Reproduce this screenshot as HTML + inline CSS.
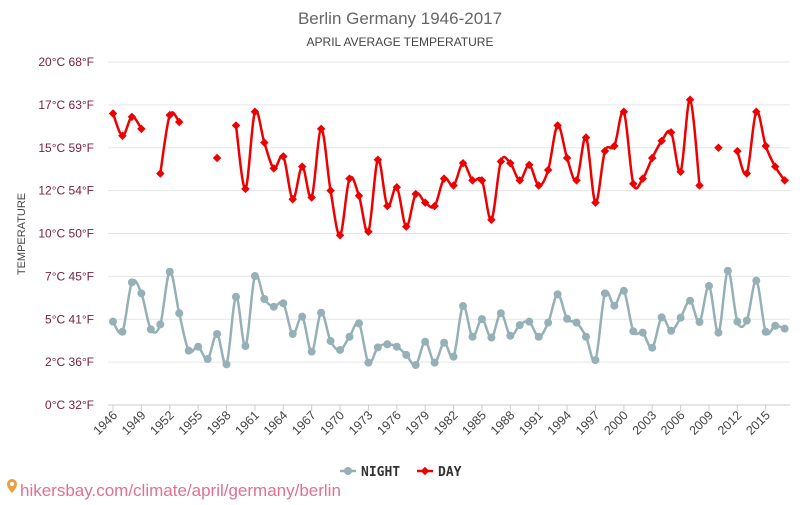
<!DOCTYPE html>
<html><head><meta charset="utf-8"><style>
body{margin:0;background:#fff;width:800px;height:500px;overflow:hidden;font-family:"Liberation Sans",sans-serif}
</style></head><body>
<svg id="chart" width="800" height="500" xmlns="http://www.w3.org/2000/svg" font-family="Liberation Sans, sans-serif">
<text x="400" y="24" text-anchor="middle" font-size="17" fill="#666">Berlin Germany 1946-2017</text>
<text x="400" y="46" text-anchor="middle" font-size="12" fill="#444">APRIL AVERAGE TEMPERATURE</text>
<text transform="translate(25,234) rotate(-90)" text-anchor="middle" font-size="11" fill="#444">TEMPERATURE</text>
<g id="grid"></g><g id="xaxis"></g><g id="series"></g>
<g>
<g>
<line x1="340" y1="471" x2="356" y2="471" stroke="#95b0b7" stroke-width="2.5"/><circle cx="348" cy="471" r="4" fill="#95b0b7"/>
<text x="361" y="476" font-size="13" font-weight="bold" font-family="DejaVu Sans Mono, monospace" fill="#333">NIGHT</text></g>
<g>
<line x1="417" y1="471" x2="433" y2="471" stroke="#e00" stroke-width="2.5"/><rect x="422" y="468" width="6" height="6" transform="rotate(45 425 471)" fill="#e00"/>
<text x="438" y="476" font-size="13" font-weight="bold" font-family="DejaVu Sans Mono, monospace" fill="#333">DAY</text></g>
</g>
<g>
<path d="M7 484 a5 5 0 0 1 10 0 c0 4 -5 9 -5 9 c0 0 -5 -5 -5 -9z" fill="#e8a040"/><circle cx="12" cy="484" r="2" fill="#fff"/>
<text x="20" y="496" font-size="17" fill="#e07090">hikersbay.com/climate/april/germany/berlin</text></g>
</svg>
<script>
const years=[];for(let y=1946;y<=2017;y++)years.push(y);
const dayTemps=[17.0,15.7,16.8,16.1,null,13.5,16.9,16.5,null,null,null,14.4,null,16.3,12.6,17.1,15.3,13.8,14.5,12.0,13.9,12.1,16.1,12.5,9.9,13.2,12.2,10.1,14.3,11.6,12.7,10.4,12.3,11.8,11.6,13.2,12.8,14.1,13.1,13.1,10.8,14.2,14.1,13.1,14.0,12.8,13.7,16.3,14.4,13.1,15.6,11.8,14.8,15.1,17.1,12.9,13.2,14.4,15.4,15.9,13.6,17.8,12.8,null,15.0,null,14.8,13.5,17.1,15.1,13.9,13.1];
const nightTemps=[4.86,4.27,7.15,6.51,4.41,4.70,7.77,5.35,3.17,3.40,2.68,4.14,2.37,6.31,3.44,7.52,6.18,5.73,5.93,4.14,5.15,3.11,5.38,3.73,3.21,3.98,4.76,2.47,3.36,3.54,3.40,2.92,2.33,3.69,2.47,3.63,2.82,5.77,3.98,5.01,3.93,5.35,4.04,4.66,4.86,3.98,4.80,6.45,5.03,4.80,3.98,2.62,6.51,5.79,6.66,4.30,4.22,3.34,5.11,4.33,5.09,6.08,4.84,6.94,4.22,7.83,4.86,4.92,7.25,4.27,4.62,4.45];
const yTicks=[0,2.5,5,7.5,10,12.5,15,17.5,20];
const yTickLabels=["0°C 32°F","2°C 36°F","5°C 41°F","7°C 45°F","10°C 50°F","12°C 54°F","15°C 59°F","17°C 63°F","20°C 68°F"];
const NS="http://www.w3.org/2000/svg";
const X0=113,XSTEP=9.46,Y0=405,YSCALE=17.15;
const xs=y=>X0+(y-1946)*XSTEP, ys=v=>Y0-v*YSCALE;
function mk(t,a,p){const e=document.createElementNS(NS,t);for(const k in a)e.setAttribute(k,a[k]);p.appendChild(e);return e;}
const grid=document.getElementById('grid'),xa=document.getElementById('xaxis'),ser=document.getElementById('series');
yTicks.forEach((v,i)=>{
 const l=mk('line',{x1:108,x2:790,y1:ys(v),y2:ys(v),stroke:i==0?'#ccc':'#e6e6e6','stroke-width':1},grid);
 
 
 const t=mk('text',{x:94,y:ys(v)+4,'text-anchor':'end','font-size':12,fill:'#7a2040'},grid);
 t.textContent=yTickLabels[i];
 
 
});
years.forEach(y=>{if((y-1946)%3)return;
 const x=xs(y);
 const tk=mk('line',{x1:x,x2:x,y1:405,y2:411,stroke:'#ccc'},xa);
 
 
 const t=mk('text',{'text-anchor':'end','font-size':12.5,fill:'#444',transform:`translate(${x+5},${416}) rotate(-45)`},xa);
 t.textContent=y;
 
 
});
function path(vals){let d='',seg=[];const segs=[];
 vals.forEach((v,i)=>{if(v==null){if(seg.length)segs.push(seg);seg=[];}else seg.push([xs(years[i]),ys(v)]);});
 if(seg.length)segs.push(seg);
 segs.forEach(s=>{if(s.length<2)return;d+=`M${s[0][0]},${s[0][1]}`;
  for(let i=0;i<s.length-1;i++){const p0=s[i-1]||s[i],p1=s[i],p2=s[i+1],p3=s[i+2]||p2;
   const c1=[p1[0]+(p2[0]-p0[0])/6,p1[1]+(p2[1]-p0[1])/6],c2=[p2[0]-(p3[0]-p1[0])/6,p2[1]-(p3[1]-p1[1])/6];
   d+=`C${c1[0]},${c1[1]} ${c2[0]},${c2[1]} ${p2[0]},${p2[1]}`;}});
 return d;}
const nl=mk('path',{d:path(nightTemps),fill:'none',stroke:'#95b0b7','stroke-width':2.5},ser);


nightTemps.forEach((v,i)=>{if(v==null)return;
 const c=mk('circle',{cx:xs(years[i]),cy:ys(v),r:4,fill:'#95b0b7'},ser);
 
 });
const dl=mk('path',{d:path(dayTemps),fill:'none',stroke:'#e00','stroke-width':2.5},ser);


dayTemps.forEach((v,i)=>{if(v==null)return;const x=xs(years[i]),y=ys(v);
 const r=mk('rect',{x:x-3,y:y-3,width:6,height:6,fill:'#e00',transform:`rotate(45 ${x} ${y})`},ser);
 
 });
</script>
</body></html>
